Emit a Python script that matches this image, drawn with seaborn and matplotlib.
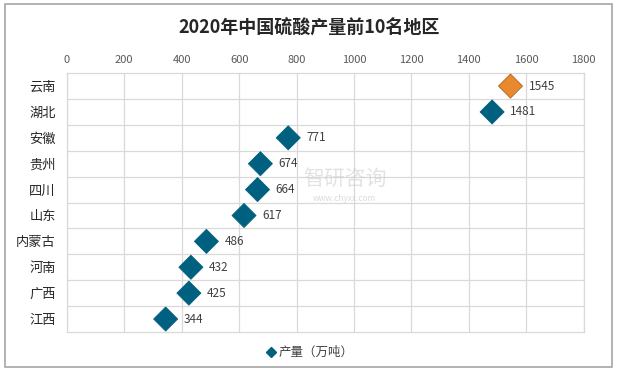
import pandas as pd
import seaborn as sns
import matplotlib.pyplot as plt
from matplotlib.patches import Rectangle
from matplotlib.lines import Line2D

regions = ['云南', '湖北', '安徽', '贵州', '四川', '山东', '内蒙古', '河南', '广西', '江西']
output = [1545, 1481, 771, 674, 664, 617, 486, 432, 425, 344]
x_ticks = [0, 200, 400, 600, 800, 1000, 1200, 1400, 1600, 1800]

blue = '#00607F'
orange = '#E8892F'

sns.set_theme(style='white')
plt.rcParams['font.family'] = ['Noto Sans CJK SC', 'DejaVu Sans']

data = pd.DataFrame({'地区': regions, '产量': output})
data['top'] = ['top' if i == 0 else 'rest' for i in range(len(regions))]

fig = plt.figure(figsize=(6.19, 3.73), dpi=100)
fig.patches.append(Rectangle((0.008, 0.016), 0.981, 0.973, transform=fig.transFigure,
                             fill=False, edgecolor='#A6A6A6', linewidth=1.2))
ax = fig.add_axes([0.108, 0.110, 0.835, 0.694])

sns.scatterplot(data=data, x='产量', y='地区', hue='top', palette={'top': orange, 'rest': blue},
                marker='D', s=150, linewidth=0.6, legend=False, ax=ax, zorder=3)
ax.collections[0].set_edgecolors([('#B0641E' if t == 'top' else blue) for t in data['top']])

for i, v in enumerate(output):
    ax.annotate(str(v), (v, i), xytext=(13, 0), textcoords='offset points',
                va='center', ha='left', fontsize=8.5, color='#404040')

ax.set_xlim(0, 1800)
ax.set_ylim(len(regions) - 0.5, -0.5)
ax.set_xticks(x_ticks)
ax.xaxis.tick_top()
ax.tick_params(axis='x', labelsize=8, colors='#595959', length=0, pad=6)
ax.tick_params(axis='y', labelsize=9.5, colors='#262626', length=0, pad=8)
ax.set_yticks(range(len(regions)))
ax.set_yticklabels(regions)
ax.set_yticks([i + 0.5 for i in range(len(regions) - 1)], minor=True)
ax.grid(axis='x', color='#D9D9D9', linewidth=0.9)
ax.grid(axis='y', which='minor', color='#D9D9D9', linewidth=0.9)
ax.grid(axis='y', which='major', visible=False)
ax.set_axisbelow(True)
for sp in ax.spines.values():
    sp.set_color('#D9D9D9')
    sp.set_linewidth(0.9)
ax.set_xlabel('')
ax.set_ylabel('')

fig.text(0.5, 0.925, '2020年中国硫酸产量前10名地区', ha='center', va='center',
         fontsize=13, fontweight='bold', color='#262626')

# watermark, kept just right of the value labels
fig.text(0.557, 0.52, '智研咨询', ha='center', va='center', fontsize=15,
         color='#C8CDD3', alpha=0.55, zorder=0)
fig.text(0.557, 0.468, 'www.chyxx.com', ha='center', va='center', fontsize=6,
         color='#C8CDD3', alpha=0.7)

handle = Line2D([], [], marker='D', color=blue, linestyle='', markersize=5)
fig.legend([handle], ['产量（万吨）'], loc='center', bbox_to_anchor=(0.5, 0.055),
           frameon=False, fontsize=9, handletextpad=0.1, handlelength=1.0,
           labelcolor='#404040')

fig.savefig('out.png', dpi=100)
